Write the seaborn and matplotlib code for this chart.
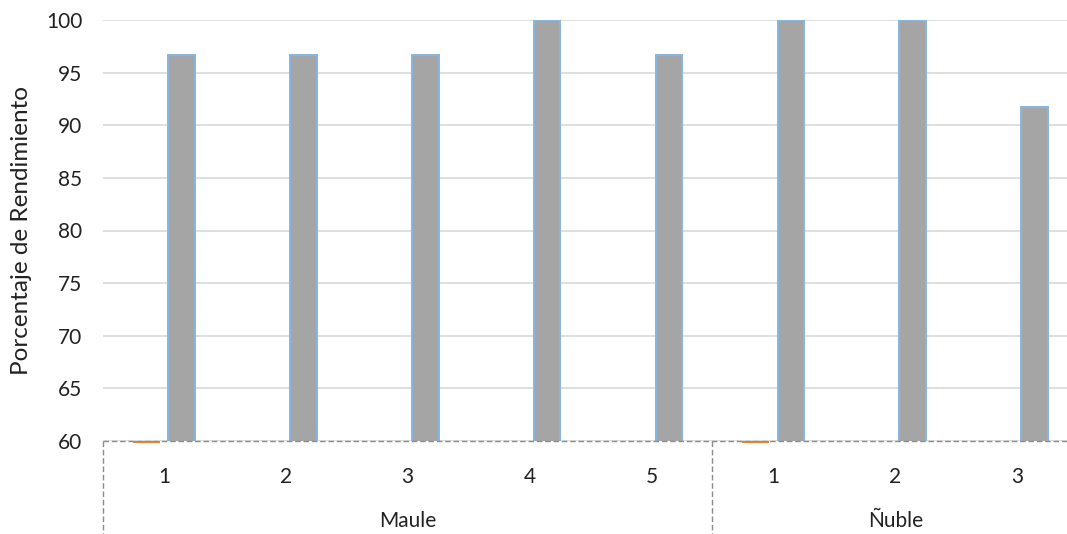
import matplotlib
matplotlib.use("Agg")
import matplotlib.pyplot as plt
import matplotlib.transforms as mtransforms
import seaborn as sns
import pandas as pd
import numpy as np

# ---- data ----
groups = ["Maule", "Maule", "Maule", "Maule", "Maule", "Ñuble", "Ñuble", "Ñuble"]
sublabels = ["1", "2", "3", "4", "5", "1", "2", "3"]
series_names = ["S1", "S2", "S3", "S4"]
s1_values = [np.nan] * 8
s2_values = [0, np.nan, np.nan, np.nan, np.nan, 0, np.nan, np.nan]
s3_values = [96.7, 96.7, 96.7, 100, 96.7, 100, 100, 91.7]
s4_values = [np.nan] * 8
y_min, y_max = 60, 100
y_ticks = [60, 65, 70, 75, 80, 85, 90, 95, 100]
y_label = "Porcentaje de Rendimiento"

keys = [f"{g}-{s}" for g, s in zip(groups, sublabels)]
rows = []
for name, vals in zip(series_names, [s1_values, s2_values, s3_values, s4_values]):
    for k, v in zip(keys, vals):
        rows.append({"cat": k, "serie": name, "valor": v})
df = pd.DataFrame(rows)

sns.set_theme(style="white")
plt.rcParams["font.family"] = ["Lato", "DejaVu Sans"]
FS = 15

fig = plt.figure(figsize=(10.67, 5.34), dpi=100)
ax = fig.add_axes([103 / 1067, 93 / 534, 975 / 1067, 421 / 534])

palette = {"S1": "#5B9BD5", "S2": "#ED7D31", "S3": "#A5A5A5", "S4": "#FFC000"}
sns.barplot(data=df, x="cat", y="valor", hue="serie", order=keys,
            hue_order=series_names, palette=palette, width=1.15, gap=0.24,
            dodge=True, legend=False, ax=ax, saturation=1,
            edgecolor="#86B6E2", linewidth=1.4, err_kws={"linewidth": 0})

ax.set_ylim(y_min, y_max)
ax.set_xlim(-0.5, len(keys) - 0.5)
ax.set_yticks(y_ticks)
ax.set_yticklabels([str(t) for t in y_ticks], fontsize=FS, color="#222222")
ax.yaxis.grid(True, color="#D9D9D9", linewidth=1.2)
ax.set_axisbelow(True)
ax.tick_params(axis="y", length=0, pad=15)
ax.tick_params(axis="x", length=0, pad=19)
ax.set_xticks(range(len(keys)))
ax.set_xticklabels(sublabels, fontsize=FS, color="#222222")
ax.set_xlabel("")
ax.set_ylabel(y_label, fontsize=17.5, color="#222222", labelpad=10)

for sp in ["left", "right", "top", "bottom"]:
    ax.spines[sp].set_visible(False)

# orange series: values below the axis minimum, shown as a thin mark under the axis
orange = palette["S2"]
for p in ax.patches:
    fc = p.get_facecolor()
    if np.allclose(fc[:3], matplotlib.colors.to_rgb(orange)) and np.isfinite(p.get_height()):
        p.set_y(y_min)
        p.set_height(-0.22)
        p.set_linewidth(0)
        p.set_clip_on(False)
        p.set_zorder(5)

# dashed baseline
ax.axhline(y_min, color="#8C8C8C", linestyle=(0, (4, 2)), linewidth=1.0, zorder=4, clip_on=False)

# group separators and labels
trans = mtransforms.blended_transform_factory(ax.transData, ax.transAxes)
bounds = [-0.5, 4.5, len(keys) - 0.5]
for b in bounds:
    ax.plot([b, b], [0, -0.3], transform=trans, color="#8C8C8C",
            linestyle=(0, (4, 2)), linewidth=1.0, clip_on=False)

unique_groups = []
for g in groups:
    if g not in unique_groups:
        unique_groups.append(g)
for g in unique_groups:
    idx = [i for i, gg in enumerate(groups) if gg == g]
    ax.text((idx[0] + idx[-1]) / 2, -0.19, g, transform=trans, ha="center",
            va="center", fontsize=FS, color="#222222")

fig.savefig("out.png", dpi=100)
